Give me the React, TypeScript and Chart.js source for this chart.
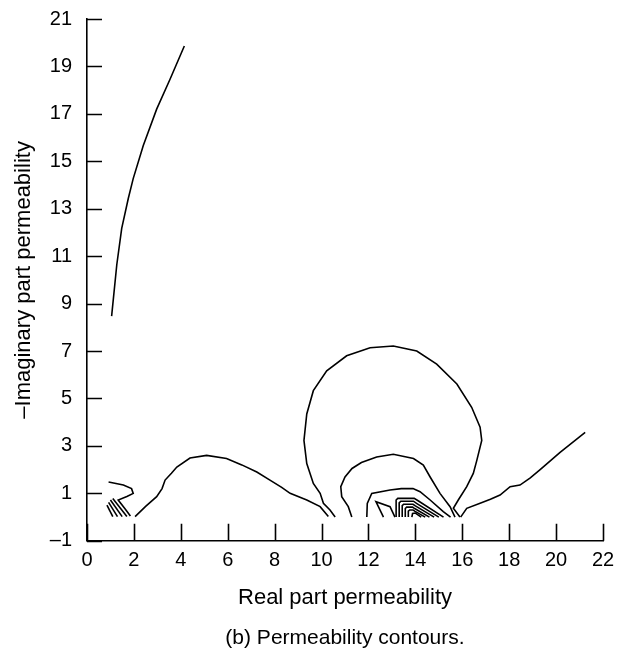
import React, { useEffect, useRef } from "react";
import { Chart, registerables } from "chart.js";

Chart.register(...registerables);

type Pt = [number, number];

const xTickValues: number[] = [0, 2, 4, 6, 8, 10, 12, 14, 16, 18, 20, 22];
const yTickValues: number[] = [-1, 1, 3, 5, 7, 9, 11, 13, 15, 17, 19, 21];

const contourUpperLeft: Pt[] = [
  [1.05, 8.47], [1.27, 10.64], [1.48, 12.17], [1.76, 13.43], [1.97, 14.27],
  [2.4, 15.67], [2.97, 17.2], [3.54, 18.46], [4.15, 19.86],
];

const contourHump: Pt[] = [
  [2.05, 0.02], [2.5, 0.45], [2.97, 0.86], [3.2, 1.2], [3.33, 1.56], [3.6, 1.85],
  [3.83, 2.11], [4.39, 2.49], [5.1, 2.6], [5.95, 2.47], [6.6, 2.2], [7.24, 1.9],
  [7.8, 1.56], [8.3, 1.25], [8.66, 1.0], [9.37, 0.72], [9.94, 0.44], [10.29, 0.02],
];

const contourZ: Pt[] = [
  [0.92, 1.48], [1.55, 1.35], [1.9, 1.2], [1.97, 1.0], [1.7, 0.87], [1.33, 0.72],
  [1.62, 0.35], [1.85, 0.05],
];
const hatch1: Pt[] = [[0.85, 0.5], [1.1, 0.02]];
const hatch2: Pt[] = [[0.92, 0.62], [1.3, 0.02]];
const hatch3: Pt[] = [[1.0, 0.72], [1.5, 0.02]];
const hatch4: Pt[] = [[1.1, 0.78], [1.7, 0.02]];

const contourCircle: Pt[] = [
  [10.58, 0.0], [10.36, 0.3], [10.08, 0.58], [9.94, 1.0], [9.65, 1.42], [9.51, 1.84],
  [9.37, 2.26], [9.25, 3.23], [9.37, 4.35], [9.65, 5.33], [10.22, 6.17], [11.07, 6.8],
  [12.07, 7.14], [13.06, 7.21], [14.06, 7.0], [14.91, 6.45], [15.77, 5.61], [16.4, 4.63],
  [16.76, 3.79], [16.83, 3.23], [16.62, 2.39], [16.47, 1.84], [16.19, 1.28], [15.83, 0.72],
  [15.62, 0.37], [15.9, 0.0],
];

const contourMiddle: Pt[] = [
  [11.29, 0.0], [11.14, 0.44], [10.86, 0.86], [10.82, 1.28], [11.0, 1.69], [11.3, 2.05],
  [11.7, 2.3], [12.35, 2.53], [13.06, 2.65], [13.92, 2.47], [14.34, 2.19], [14.63, 1.69],
  [15.05, 1.0], [15.48, 0.44], [15.69, 0.0],
];

const contourInner: Pt[] = [
  [11.93, 0.0], [11.95, 0.58], [12.14, 1.0], [12.92, 1.14], [13.4, 1.2], [13.9, 1.2],
  [14.2, 1.07], [14.63, 0.72], [15.19, 0.23], [15.5, 0.0],
];

const contourWedge: Pt[] = [[12.64, 0.0], [12.32, 0.65], [12.92, 0.44], [13.13, 0.0]];

const nest1: Pt[] = [[13.18, 0], [13.18, 0.72], [13.25, 0.79], [13.95, 0.79], [14.1, 0.7], [15.2, 0]];
const nest2: Pt[] = [[13.31, 0], [13.31, 0.6], [13.38, 0.67], [13.92, 0.67], [14.05, 0.58], [15.0, 0]];
const nest3: Pt[] = [[13.44, 0], [13.44, 0.48], [13.5, 0.54], [13.9, 0.54], [14.0, 0.47], [14.8, 0]];
const nest4: Pt[] = [[13.57, 0], [13.57, 0.36], [13.63, 0.42], [13.88, 0.42], [13.97, 0.36], [14.6, 0]];
const nest5: Pt[] = [[13.7, 0], [13.7, 0.25], [13.76, 0.3], [13.9, 0.3], [13.97, 0.25], [14.42, 0]];
const nest6: Pt[] = [[13.85, 0], [13.88, 0.15], [14.0, 0.17], [14.25, 0]];

const contourRight: Pt[] = [
  [15.93, 0.0], [16.19, 0.37], [16.76, 0.58], [17.2, 0.75], [17.61, 0.93], [18.04, 1.28],
  [18.46, 1.35], [18.9, 1.65], [19.32, 2.0], [20.17, 2.73], [21.24, 3.57],
];

const allContours: Pt[][] = [
  contourUpperLeft, contourHump, contourZ, hatch1, hatch2, hatch3, hatch4,
  contourCircle, contourMiddle, contourInner, contourWedge,
  nest1, nest2, nest3, nest4, nest5, nest6, contourRight,
];

const FONT = "'Liberation Sans', Arial, Helvetica, sans-serif";

const inwardTicks = {
  id: "inwardTicks",
  afterDraw(chart: any) {
    const { ctx, chartArea, scales } = chart;
    const xs = scales.x;
    const ys = scales.y;
    ctx.save();
    ctx.strokeStyle = "#000";
    ctx.lineWidth = 1.6;
    ctx.beginPath();
    xs.ticks.forEach((t: any) => {
      const px = Math.round(xs.getPixelForValue(t.value)) + 0.5;
      ctx.moveTo(px, chartArea.bottom);
      ctx.lineTo(px, chartArea.bottom - 17);
    });
    ys.ticks.forEach((t: any) => {
      const py = Math.round(ys.getPixelForValue(t.value)) + 0.5;
      ctx.moveTo(chartArea.left, py);
      ctx.lineTo(chartArea.left + 15, py);
    });
    ctx.stroke();
    ctx.restore();
  },
};

const fmt = (v: number) => (v < 0 ? "\u2013" + Math.abs(v) : String(v));

export default function App() {
  const ref = useRef<HTMLCanvasElement | null>(null);
  useEffect(() => {
    if (!ref.current) return;
    const chart = new Chart(ref.current, {
      type: "scatter",
      data: {
        datasets: allContours.map((c, i) => ({
          label: "c" + i,
          data: c.map(([x, y]) => ({ x, y })),
          showLine: true,
          borderColor: "#000",
          backgroundColor: "#000",
          borderWidth: 1.6,
          pointRadius: 0,
          tension: 0,
        })),
      },
      options: {
        animation: false,
        responsive: true,
        maintainAspectRatio: false,
        layout: { padding: { top: 14, right: 31, left: 0, bottom: 0 } },
        plugins: {
          legend: { display: false },
          tooltip: { enabled: false },
          title: {
            display: true,
            position: "bottom",
            fullSize: false,
            text: "(b) Permeability contours.",
            color: "#000",
            font: { family: FONT, size: 21, weight: "normal" },
            padding: { top: 8, bottom: 3 },
          },
        },
        scales: {
          x: {
            type: "linear",
            min: 0,
            max: 22,
            afterBuildTicks: (s: any) => {
              s.ticks = xTickValues.map((v) => ({ value: v }));
            },
            afterFit: (s: any) => {
              s.height = 77;
            },
            grid: { display: false },
            border: { display: true, color: "#000", width: 1.6 },
            ticks: {
              color: "#000",
              padding: 0,
              font: { family: FONT, size: 20 },
              callback: (v: any) => fmt(Number(v)),
            },
            title: {
              display: true,
              text: "Real part permeability",
              color: "#000",
              font: { family: FONT, size: 22 },
              padding: { top: 0, bottom: 7 },
            },
          },
          y: {
            type: "linear",
            min: -1,
            max: 21,
            afterBuildTicks: (s: any) => {
              s.ticks = yTickValues.map((v) => ({ value: v }));
            },
            afterFit: (s: any) => {
              s.width = 87;
            },
            grid: { display: false },
            border: { display: true, color: "#000", width: 1.6 },
            ticks: {
              color: "#000",
              padding: 7,
              font: { family: FONT, size: 20 },
              callback: (v: any) => fmt(Number(v)),
            },
            title: {
              display: true,
              text: "\u2013Imaginary part permeability",
              color: "#000",
              font: { family: FONT, size: 22 },
              padding: { top: 11, bottom: 0 },
            },
          },
        },
      },
      plugins: [inwardTicks],
    } as any);
    return () => chart.destroy();
  }, []);
  return (
    <div style={{ position: "absolute", left: 0, top: 0, width: 634, height: 654, background: "#fff" }}>
      <canvas ref={ref} />
    </div>
  );
}
